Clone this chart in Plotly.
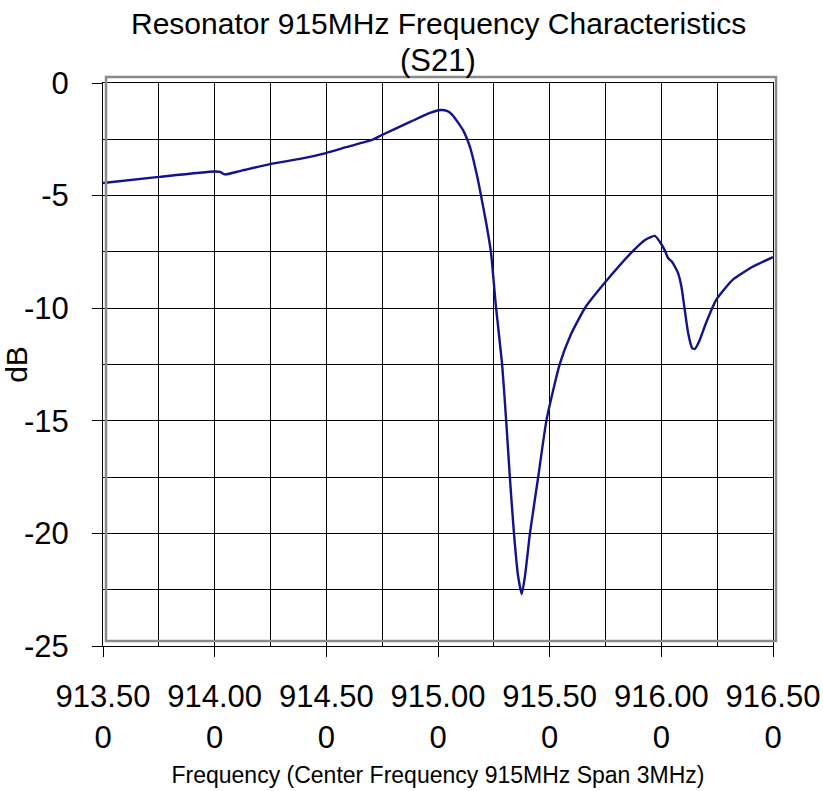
import plotly.graph_objects as go

# Frequency (MHz) and S21 (dB)
freq_mhz = [913.500, 913.751, 913.997, 914.024, 914.046, 914.113, 914.248, 914.382,
            914.498, 914.593, 914.704, 914.749, 914.875, 914.964, 915.013, 915.040,
            915.063, 915.112, 915.143, 915.179, 915.192, 915.215, 915.237, 915.260,
            915.287, 915.305, 915.322, 915.340, 915.358, 915.375, 915.390, 915.412,
            915.448, 915.486, 915.545, 915.594, 915.658, 915.757, 915.869,
            915.927, 915.971, 915.993, 916.015, 916.030, 916.047, 916.075, 916.090,
            916.105, 916.120, 916.138, 916.150, 916.172, 916.200, 916.245, 916.318,
            916.407, 916.500]
s21_db = [-4.44, -4.17, -3.93, -3.95, -4.06, -3.91, -3.60, -3.37,
          -3.11, -2.84, -2.53, -2.31, -1.73, -1.33, -1.20, -1.24,
          -1.40, -2.09, -2.84, -4.31, -4.97, -6.17, -7.50, -9.99,
          -12.48, -14.96, -17.54, -19.98, -21.85, -22.69, -21.85, -19.98,
          -17.54, -14.96, -12.48, -11.19, -9.99, -8.75, -7.50,
          -6.97, -6.79, -7.05, -7.42, -7.77, -7.93, -8.44, -9.05,
          -10.08, -11.10, -11.77, -11.81, -11.41, -10.66, -9.64, -8.75,
          -8.17, -7.73]

x_tick_vals = [913.5, 914.0, 914.5, 915.0, 915.5, 916.0, 916.5]
x_tick_text = ["913.50<br>0", "914.00<br>0", "914.50<br>0", "915.00<br>0",
               "915.50<br>0", "916.00<br>0", "916.50<br>0"]
y_tick_vals = [0, -5, -10, -15, -20, -25]
y_tick_text = ["0", "-5", "-10", "-15", "-20", "-25"]

title_lines = ["Resonator 915MHz Frequency Characteristics", "(S21)"]

FONT = "Liberation Sans, Arial, sans-serif"

fig = go.Figure()
fig.add_trace(go.Scatter(
    x=freq_mhz, y=s21_db, mode="lines",
    line=dict(color="#12128a", width=2.4, shape="spline", smoothing=0.5),
    hoverinfo="x+y", showlegend=False,
))

fig.update_layout(
    width=823, height=791,
    margin=dict(l=103, r=50, t=83, b=145),
    paper_bgcolor="white", plot_bgcolor="white",
    font=dict(family=FONT, color="black"),
    xaxis=dict(
        range=[913.5, 916.5], tickmode="array", tickvals=x_tick_vals, ticktext=x_tick_text,
        showgrid=True, gridcolor="black", gridwidth=1,
        minor=dict(dtick=0.25, tick0=913.5, showgrid=True, gridcolor="black", gridwidth=1),
        ticks="outside", ticklen=10, tickcolor="black", tickwidth=1,
        showline=True, linecolor="black", linewidth=1, mirror=True,
        zeroline=False, ticklabelstandoff=13, automargin=False,
        tickfont=dict(size=31, family=FONT, color="black"),
        title=dict(text="Frequency (Center Frequency 915MHz Span 3MHz)",
                   font=dict(size=23, family=FONT, color="black"), standoff=13),
    ),
    yaxis=dict(
        range=[-25, 0], tickmode="array", tickvals=y_tick_vals, ticktext=y_tick_text,
        showgrid=True, gridcolor="black", gridwidth=1,
        minor=dict(dtick=2.5, tick0=0, showgrid=True, gridcolor="black", gridwidth=1),
        ticks="outside", ticklen=10, tickcolor="black", tickwidth=1,
        showline=True, linecolor="black", linewidth=1, mirror=True,
        zeroline=False, ticklabelstandoff=17, automargin=False,
        tickfont=dict(size=31, family=FONT, color="black"),
        title=dict(text="dB", font=dict(size=30, family=FONT, color="black"), standoff=4),
    ),
)

for txt, ypos, fs in zip(title_lines, [1.106, 1.04], [30, 31]):
    fig.add_annotation(text=txt, xref="paper", yref="paper", x=0.5, y=ypos,
                       xanchor="center", yanchor="middle", showarrow=False,
                       font=dict(size=fs, family=FONT, color="black"))

# Excel-style grey plot-area border, slightly offset from the axes
fig.add_shape(type="rect", xref="x domain", yref="y domain",
              x0=0.0045, x1=1.0045, y0=0.009, y1=1.0107,
              line=dict(color="#8a8a8a", width=2.5), fillcolor="rgba(0,0,0,0)", layer="above")

fig.write_html("out.html", config={"displayModeBar": False},
               post_script="document.body.style.margin='0';")
